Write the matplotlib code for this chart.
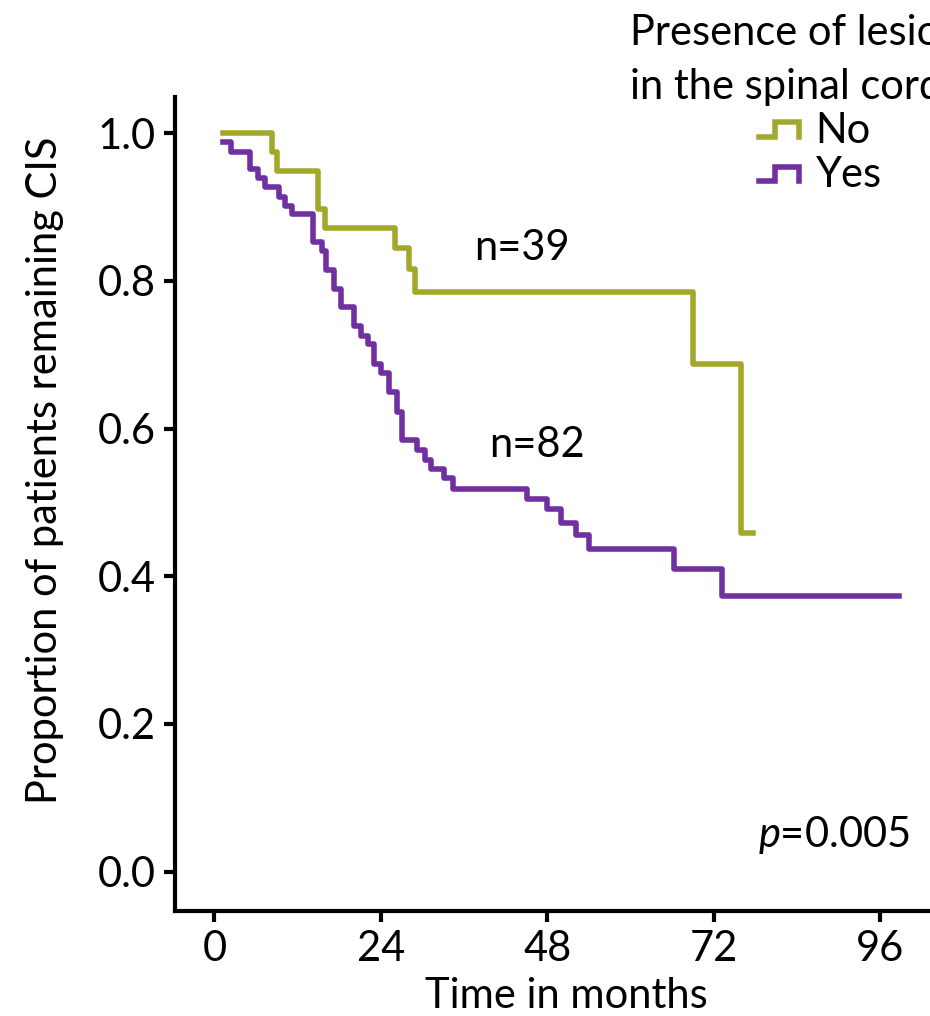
import matplotlib
matplotlib.use('Agg')
import matplotlib.pyplot as plt
from matplotlib.lines import Line2D
from matplotlib.legend_handler import HandlerBase

plt.rcParams['font.family'] = ['Lato', 'DejaVu Sans']
plt.rcParams['mathtext.fontset'] = 'custom'
plt.rcParams['mathtext.rm'] = 'Lato'
plt.rcParams['mathtext.it'] = 'Lato:italic'

# Kaplan-Meier steps (months, proportion)
no_time = [1.3, 8.3, 9.1, 14.9, 16.0, 26.1, 28.1, 29.0, 69.0, 76.0, 77.7]
no_surv = [1.0, 0.974, 0.949, 0.897, 0.872, 0.844, 0.816, 0.785, 0.687, 0.458, 0.458]

yes_time = [1.3, 2.45, 5.2, 6.3, 7.3, 9.3, 10.2, 11.2, 14.3, 15.5, 16.1, 17.3,
            18.2, 20.2, 21.1, 22.2, 23.0, 24.0, 25.2, 26.3, 27.1, 29.2, 30.4,
            31.3, 33.1, 34.4, 45.1, 48.0, 50.0, 52.1, 54.0, 66.3, 73.2, 98.8]
yes_surv = [0.988, 0.974, 0.951, 0.939, 0.927, 0.913, 0.902, 0.890, 0.853, 0.840,
            0.815, 0.789, 0.764, 0.739, 0.725, 0.714, 0.687, 0.675, 0.649, 0.623,
            0.585, 0.571, 0.557, 0.545, 0.533, 0.518, 0.504, 0.491, 0.472, 0.456,
            0.437, 0.410, 0.373, 0.373]

x_ticks = [0, 24, 48, 72, 96]
y_ticks = [0.0, 0.2, 0.4, 0.6, 0.8, 1.0]

green = '#A3A82C'
purple = '#7030A0'
fs = 30


class StepHandler(HandlerBase):
    # legend key drawn as a little step, like the reference
    def create_artists(self, legend, orig_handle, xdescent, ydescent,
                       width, height, fontsize, trans):
        x0, x1 = -xdescent, -xdescent + width
        xm = x0 + 0.4 * width
        ylo, yhi = -ydescent + 0.2 * height, -ydescent + 0.7 * height
        line = Line2D([x0, xm, xm, x1, x1], [ylo, ylo, yhi, yhi, ylo],
                      color=orig_handle.get_color(), lw=orig_handle.get_linewidth(),
                      solid_joinstyle='miter', transform=trans)
        return [line]


fig = plt.figure(figsize=(9.3, 10.16), dpi=100)
ax = fig.add_axes([175 / 930, 105.3 / 1016, 755 / 930, 813.7 / 1016])

l_no, = ax.plot(no_time, no_surv, drawstyle='steps-post', color=green, lw=4, label='No')
l_yes, = ax.plot(yes_time, yes_surv, drawstyle='steps-post', color=purple, lw=4, label='Yes')

ax.set_xlim(-5.67, 103.2)
ax.set_ylim(-0.053, 1.049)
ax.set_xticks(x_ticks)
ax.set_yticks(y_ticks)
ax.set_yticklabels(['%.1f' % v for v in y_ticks])

for s in ['top', 'right']:
    ax.spines[s].set_visible(False)
for s in ['left', 'bottom']:
    ax.spines[s].set_linewidth(3)
ax.tick_params(axis='both', direction='out', length=8, width=3, labelsize=fs, pad=6)

ax.set_xlabel('Time in months', fontsize=fs, va='center')
ax.xaxis.set_label_coords((566 - 175) / 755, -(996 - 910.7) / 813.7)
ax.set_ylabel('Proportion of patients remaining CIS', fontsize=fs, va='center')
ax.yaxis.set_label_coords((45 - 175) / 755, (910.7 - 470) / 813.7)

ax.text(44.4, 0.845, 'n=39', fontsize=fs, ha='center', va='center')
ax.text(46.5, 0.578, 'n=82', fontsize=fs, ha='center', va='center')
ax.text(100.3, 0.05, r'$\mathit{p}$=0.005', fontsize=fs, ha='right', va='center')

fig.text(630 / 930, 1 - 60 / 1016, 'Presence of lesions\nin the spinal cord',
         fontsize=fs, ha='left', va='center', linespacing=1.5)
leg = fig.legend(handles=[l_no, l_yes], handler_map={Line2D: StepHandler()},
                 loc='center left', bbox_to_anchor=(759 / 930, 1 - 153 / 1016),
                 frameon=False, fontsize=fs, handlelength=0.96, handletextpad=0.4,
                 labelspacing=0.15, borderpad=0, borderaxespad=0)

fig.savefig('out.png', dpi=100)
